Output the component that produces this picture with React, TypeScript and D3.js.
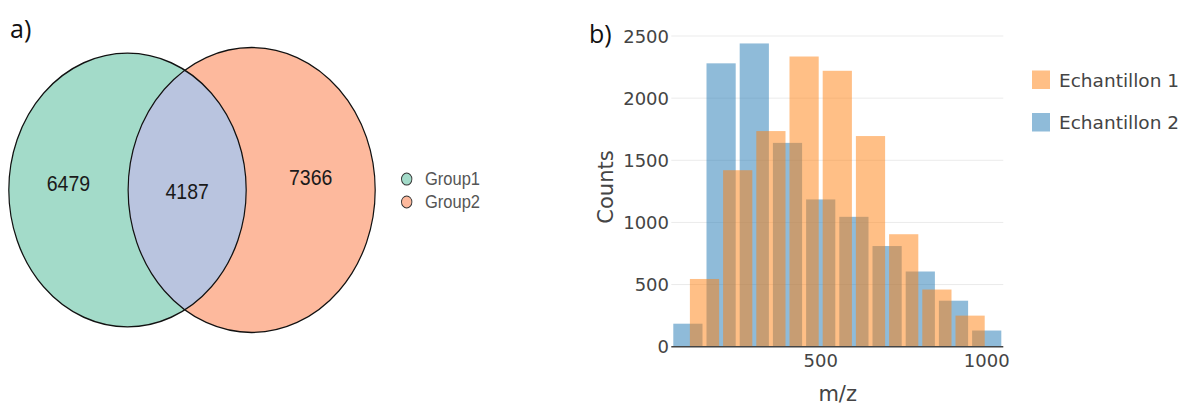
import React from "react";
import * as d3 from "d3";

// ---------- Data ----------
const vennLabels = ["Group1", "Group2"];
const group1Only = 6479;
const intersection = 4187;
const group2Only = 7366;
const vennColors = ["#a3dbc9", "#fdb99d"];
const intersectionColor = "#b9c4df";

const binWidth = 100;
const echantillon2Start = 50;
const echantillon2Counts = [185, 2280, 2440, 1640, 1185, 1045, 810, 605, 370, 130];
const echantillon1Start = 100;
const echantillon1Counts = [545, 1420, 1735, 2335, 2220, 1695, 905, 460, 250];
const yTicks = [0, 500, 1000, 1500, 2000, 2500];
const xTicks = [500, 1000];
const seriesNames = ["Echantillon 1", "Echantillon 2"];
const seriesColors = ["#ff7f0e", "#1f77b4"];

// ---------- Helpers ----------
function lensArea(d: number, r1: number, r2: number) {
  if (d >= r1 + r2) return 0;
  if (d <= Math.abs(r1 - r2)) return Math.PI * Math.min(r1, r2) ** 2;
  const a1 = Math.acos((d * d + r1 * r1 - r2 * r2) / (2 * d * r1));
  const a2 = Math.acos((d * d + r2 * r2 - r1 * r1) / (2 * d * r2));
  const tri = 0.5 * Math.sqrt((-d + r1 + r2) * (d + r1 - r2) * (d - r1 + r2) * (d + r1 + r2));
  return r1 * r1 * a1 + r2 * r2 * a2 - tri;
}

function Venn() {
  const n1 = group1Only + intersection;
  const n2 = group2Only + intersection;
  const rScale = d3.scaleSqrt().domain([0, n1]).range([0, 118.7]);
  const r1 = rScale(n1);
  const r2 = rScale(n2);
  const target = Math.PI * rScale(intersection) ** 2;
  let lo = Math.abs(r1 - r2), hi = r1 + r2;
  for (let i = 0; i < 80; i++) {
    const mid = (lo + hi) / 2;
    if (lensArea(mid, r1, r2) > target) lo = mid; else hi = mid;
  }
  const d = (lo + hi) / 2;
  const centerX = 192;
  const cy = 190;
  const cx1 = centerX - (d + r2 - r1) / 2;
  const cx2 = cx1 + d;
  const sy = 1.153;

  const labels = [
    { v: group1Only, x: ((cx1 - r1) + (cx2 - r2)) / 2, dy: -6 },
    { v: intersection, x: ((cx2 - r2) + (cx1 + r1)) / 2, dy: 0.6 },
    { v: group2Only, x: ((cx1 + r1) + (cx2 + r2)) / 2, dy: -11.5 },
  ];

  return (
    <g transform={`translate(0,${cy}) scale(1,${sy}) translate(0,${-cy})`}>
      <defs>
        <clipPath id="clip1">
          <circle cx={cx1} cy={cy} r={r1} />
        </clipPath>
      </defs>
      <circle cx={cx1} cy={cy} r={r1} fill={vennColors[0]} />
      <circle cx={cx2} cy={cy} r={r2} fill={vennColors[1]} />
      <circle cx={cx2} cy={cy} r={r2} fill={intersectionColor} clipPath="url(#clip1)" />
      <circle cx={cx1} cy={cy} r={r1} fill="none" stroke="#111" strokeWidth={1.2} />
      <circle cx={cx2} cy={cy} r={r2} fill="none" stroke="#111" strokeWidth={1.2} />
      {labels.map((l, i) => (
        <text key={i} x={l.x} y={cy + l.dy} textAnchor="middle" dominantBaseline="central"
          fontFamily="Liberation Sans, Arial, sans-serif" fontSize={19.5} fill="#1a1a1a">{l.v}</text>
      ))}
      {vennLabels.map((name, i) => (
        <g key={name}>
          <circle cx={406.7} cy={180.5 + i * 19.9} r={5.2} fill={vennColors[i]} stroke="#333" strokeWidth={0.9} />
          <text x={425} y={180.5 + i * 19.9} dominantBaseline="central"
            fontFamily="Liberation Sans, Arial, sans-serif" fontSize={16.5} fill="#555">{name}</text>
        </g>
      ))}
    </g>
  );
}

function Histogram() {
  const x = d3.scaleLinear().domain([50, 1050]).range([671.3, 1003.3]);
  const y = d3.scaleLinear().domain([0, 2500]).range([346.7, 36]);
  const inset = 2;
  const series = [
    { start: echantillon2Start, counts: echantillon2Counts, color: seriesColors[1] },
    { start: echantillon1Start, counts: echantillon1Counts, color: seriesColors[0] },
  ];
  const font = "DejaVu Sans, Verdana, sans-serif";
  return (
    <g>
      {yTicks.filter(t => t > 0).map(t => (
        <line key={t} x1={x(50)} x2={x(1050)} y1={y(t)} y2={y(t)} stroke="#ebebeb" strokeWidth={1} />
      ))}
      {series.map((s, si) => (
        <g key={si}>
          {s.counts.map((c, i) => {
            const x0 = x(s.start + i * binWidth) + inset;
            const x1 = x(s.start + (i + 1) * binWidth) - inset;
            return <rect key={i} x={x0} y={y(c)} width={x1 - x0} height={y(0) - y(c)} fill={s.color} fillOpacity={0.5} />;
          })}
        </g>
      ))}
      <line x1={x(50)} x2={x(1050)} y1={y(0)} y2={y(0)} stroke="#444" strokeWidth={1.6} />
      {yTicks.map(t => (
        <text key={t} x={669} y={y(t)} textAnchor="end" dominantBaseline="central"
          fontFamily={font} fontSize={18} fill="#444">{t}</text>
      ))}
      {xTicks.map(t => (
        <text key={t} x={x(t)} y={360} textAnchor="middle" dominantBaseline="central"
          fontFamily={font} fontSize={18} fill="#444">{t}</text>
      ))}
      <text transform={`translate(613,187) rotate(-90)`} textAnchor="middle"
        fontFamily={font} fontSize={21} fill="#444">Counts</text>
      <text x={837.7} y={401} textAnchor="middle" fontFamily={font} fontSize={21} fill="#444">m/z</text>
      {seriesNames.map((name, i) => (
        <g key={name}>
          <rect x={1032} y={70.5 + i * 42.5} width={18} height={18.5} fill={seriesColors[i]} fillOpacity={0.5} />
          <text x={1059} y={80 + i * 42.5} dominantBaseline="central" fontFamily={font} fontSize={18.5} fill="#444">{name}</text>
        </g>
      ))}
    </g>
  );
}

export default function App() {
  return (
    <svg width={1192} height={405} style={{ position: "absolute", left: 0, top: 0, background: "#fff" }}>
      <rect width={1192} height={405} fill="#fff" />
      <Venn />
      <Histogram />
      <text x={10} y={37.5} fontFamily="Open Sans, Lato, sans-serif" fontSize={25} fill="#111">a)</text>
      <text x={589} y={42.5} fontFamily="Open Sans, Lato, sans-serif" fontSize={25} fill="#111">b)</text>
    </svg>
  );
}
